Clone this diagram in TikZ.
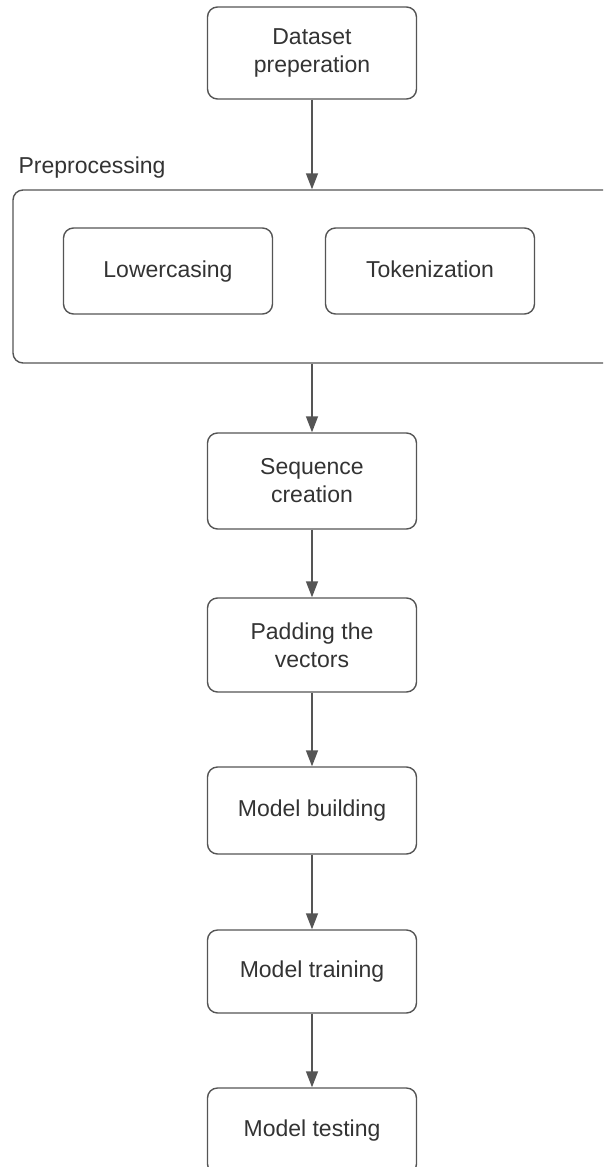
\documentclass[tikz,border=0pt]{standalone}
\usepackage{fontspec}
\setmainfont{Liberation Sans}
\usetikzlibrary{arrows.meta}
\begin{document}
\begin{tikzpicture}[x=1pt,y=-1pt,
  stage/.style={draw=linecolor,line width=1.4pt,rounded corners=10pt,fill=white,
    text=textcolor,align=center,minimum width=209pt,
    font=\fontsize{23}{28}\selectfont},
  substage/.style={stage,minimum height=86pt,text height=17pt,text depth=5pt},
  flow/.style={draw=linecolor,line width=1.4pt,-{Triangle[length=16pt,width=12pt]}}]
  \definecolor{linecolor}{HTML}{555555}
  \definecolor{textcolor}{HTML}{333333}
  \clip (0,0) rectangle (603,1167);
  % main steps
  \node [stage,minimum height=92pt] (data) at (312,53) {Dataset\\preperation};
  \node [stage,minimum width=612pt,minimum height=173pt] (prep) at (319,276.5) {};
  \node [anchor=base west,text=textcolor,font=\fontsize{23}{28}\selectfont] (preplabel) at (15,173) {Preprocessing};
  \node [substage] (lower) at (168,271) {Lowercasing};
  \node [substage] (token) at (430,271) {Tokenization};
  \node [stage,minimum height=96pt] (seq) at (312,481) {Sequence\\creation};
  \node [stage,minimum height=94pt] (pad) at (312,645) {Padding the\\vectors};
  \node [stage,minimum height=87pt] (build) at (312,810.5) {Model building};
  \node [stage,minimum height=83pt] (train) at (312,971.5) {Model training};
  \node [stage,minimum height=86pt] (test) at (312,1131) {Model testing};
  % arrows between steps
  \draw [flow] (data.south) -- (data.south |- prep.north);
  \draw [flow] (seq.north |- prep.south) -- (seq.north);
  \draw [flow] (seq) -- (pad);
  \draw [flow] (pad) -- (build);
  \draw [flow] (build) -- (train);
  \draw [flow] (train) -- (test);
\end{tikzpicture}
\end{document}
